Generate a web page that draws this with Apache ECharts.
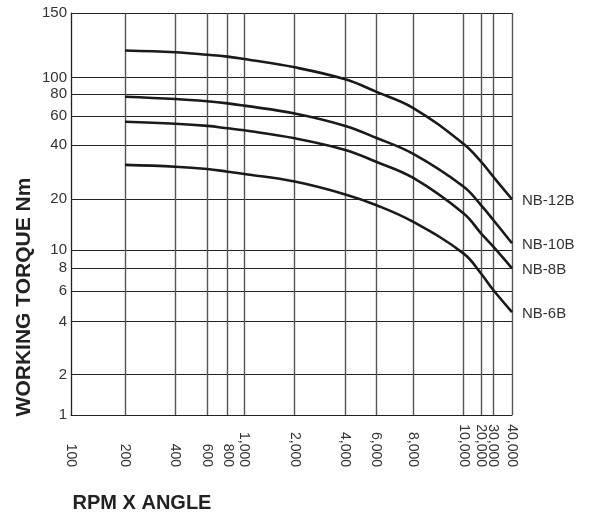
<!DOCTYPE html>
<html>
<head>
<meta charset="utf-8">
<script src="https://cdn.jsdelivr.net/npm/echarts@6/dist/echarts.min.js"></script>
<style>html,body{margin:0;padding:0;background:#fff}#c{width:590px;height:514px}</style>
</head>
<body>
<div id="c"></div>
<script>
// ---- data ----
var rpm = [200, 400, 600, 800, 1000, 2000, 4000, 6000, 8000, 10000, 20000, 30000, 40000];
var nb12 = [118.6, 117.3, 115.5, 114.1, 112.4, 106.7, 97.8, 82.6, 66.6, 40.7, 32.4, 26.7, 20.0];
var nb10 = [77.2, 74.9, 72.7, 70.8, 68.7, 62.0, 52.3, 44.4, 35.8, 23.5, 18.5, 15.1, 11.0];
var nb8  = [55.4, 53.9, 52.3, 50.6, 49.2, 44.1, 37.7, 32.4, 26.3, 16.5, 12.6, 10.5, 8.0];
var nb6  = [31.1, 30.4, 29.5, 28.5, 27.7, 25.1, 21.3, 18.5, 14.7, 9.6, 7.5, 6.1, 4.55];
var seriesNames = ['NB-12B', 'NB-10B', 'NB-8B', 'NB-6B'];

// tick values (chart's printed scale)
var xTickVals = [100, 200, 400, 600, 800, 1000, 2000, 4000, 6000, 8000, 10000, 20000, 30000, 40000];
var xTickLabels = ['100', '200', '400', '600', '800', '1,000', '2,000', '4,000', '6,000', '8,000', '10,000', '20,000', '30,000', '40,000'];
var yTickVals = [1, 2, 4, 6, 8, 10, 20, 40, 60, 80, 100, 150];
var yTickLabels = ['1', '2', '4', '6', '8', '10', '20', '40', '60', '80', '100', '150'];

// hand-drawn (non-uniform) scale of the printed chart: axis units 0..100 at each tick
var xScale = [0, 12.24, 23.65, 30.91, 35.53, 39.30, 50.73, 62.20, 69.16, 77.62, 89.05, 92.97, 95.76, 100];
var yScale = [0, 10.02, 23.21, 30.77, 36.49, 40.97, 53.66, 67.09, 74.38, 79.85, 83.91, 100];

function mapPiece(v, vals, pos) {
  for (var i = 0; i < vals.length - 1; i++) {
    if (v <= vals[i + 1] || i === vals.length - 2) {
      var f = (Math.log(v) - Math.log(vals[i])) / (Math.log(vals[i + 1]) - Math.log(vals[i]));
      return pos[i] + f * (pos[i + 1] - pos[i]);
    }
  }
}
function labelFor(v, pos, labels) {
  for (var i = 0; i < pos.length; i++) if (Math.abs(pos[i] - v) < 0.01) return labels[i];
  return '';
}

var all = [nb12, nb10, nb8, nb6];
var series = all.map(function (arr, k) {
  return {
    name: seriesNames[k],
    type: 'line',
    smooth: 0.4,
    symbol: 'none',
    lineStyle: { color: '#1a1a1a', width: 2.6 },
    data: arr.map(function (t, i) { return [mapPiece(rpm[i], xTickVals, xScale), mapPiece(t, yTickVals, yScale)]; }),
    endLabel: {
      show: true, formatter: '{a}', distance: 10, offset: [0, 2],
      color: '#333', fontSize: 15, fontFamily: 'Liberation Sans'
    }
  };
});

var chart = echarts.init(document.getElementById('c'), null, { renderer: 'canvas' });
chart.setOption({
  animation: false,
  backgroundColor: '#fff',
  grid: { left: 71, right: 78, top: 13, bottom: 99, containLabel: false, outerBoundsMode: 'none' },
  xAxis: {
    type: 'value', min: 0, max: 100,
    axisLine: { show: true, lineStyle: { color: '#222', width: 1 } },
    axisTick: { show: false, customValues: xScale },
    splitLine: { show: true, lineStyle: { color: '#555', width: 1.4 } },
    axisLabel: {
      customValues: xScale,
      rotate: -90, align: 'right', verticalAlign: 'middle', margin: 52,
      color: '#333', fontSize: 14, fontFamily: 'Liberation Sans',
      formatter: function (v) { return labelFor(v, xScale, xTickLabels); }
    }
  },
  yAxis: {
    type: 'value', min: 0, max: 100,
    axisLine: { show: true, lineStyle: { color: '#222', width: 1 } },
    axisTick: { show: false, customValues: yScale },
    splitLine: { show: true, lineStyle: { color: '#222', width: 1 } },
    axisLabel: {
      customValues: yScale, margin: 4,
      color: '#333', fontSize: 15, fontFamily: 'Liberation Sans',
      formatter: function (v) { return labelFor(v, yScale, yTickLabels); }
    }
  },
  graphic: [
    { type: 'text', x: 24, y: 297, rotation: Math.PI / 2,
      style: { text: 'WORKING TORQUE Nm', font: 'bold 21px "Liberation Sans"', fill: '#222', align: 'center', verticalAlign: 'middle' } },
    { type: 'text', x: 142, y: 503,
      style: { text: 'RPM X ANGLE', font: 'bold 20px "Liberation Sans"', fill: '#222', align: 'center', verticalAlign: 'middle' } }
  ],
  series: series
});
</script>
</body>
</html>
